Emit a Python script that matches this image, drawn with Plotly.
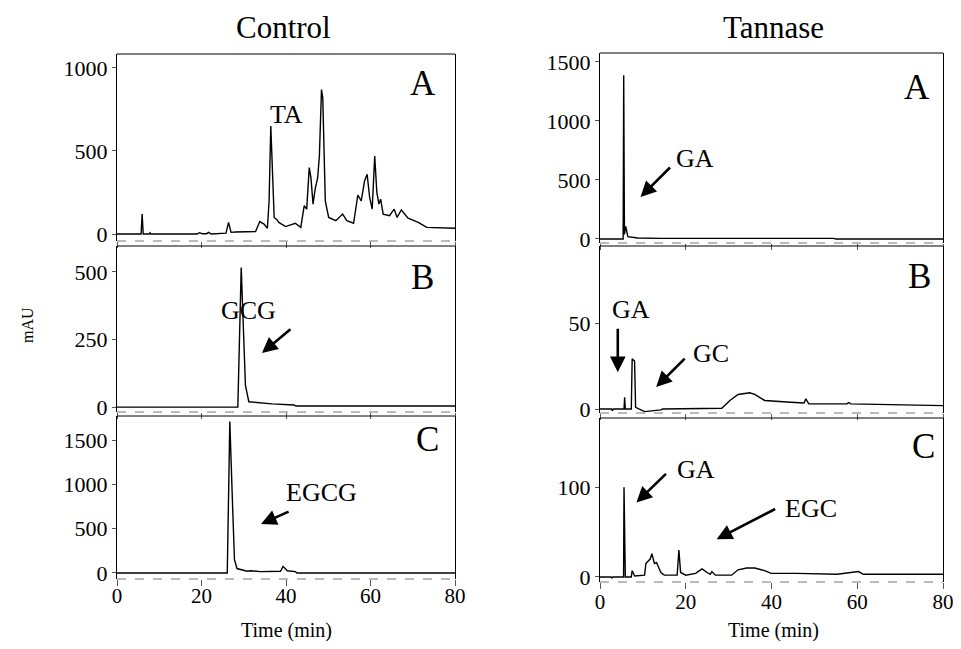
import plotly.graph_objects as go
from plotly.subplots import make_subplots

# Control A (TA)
ctrl_a_t = [0, 5.7, 5.95, 6.2, 7.6, 7.8, 8.0, 19.0, 19.5, 20.2, 21.2, 21.7, 22.3, 25.8, 26.4, 27.0,
            28.0, 32.8, 33.8, 34.8, 35.6, 36.0, 36.4, 36.8, 37.2, 37.9, 38.3, 39.9, 42.2, 43.5, 44.3,
            44.9, 45.5, 45.9, 46.4, 46.9, 47.5, 47.9, 48.4, 48.7, 49.3, 50.1, 51.8, 53.4, 54.4, 56.0,
            57.0, 57.8, 58.6, 59.2, 59.8, 60.4, 61.0, 61.5, 62.0, 62.4, 63.0, 64.5, 65.6, 66.3, 67.3,
            68.9, 71.3, 73.3, 80]
ctrl_a_v = [0, 0, 120, 0, 0, 8, 0, 0, 8, 2, 2, 10, 0, 5, 70, 10,
            12, 15, 75, 60, 35, 200, 650, 300, 100, 85, 70, 45, 65, 40, 170,
            150, 400, 340, 180, 270, 340, 470, 870, 820, 200, 100, 80, 120, 80, 65,
            235, 200, 320, 360, 220, 150, 470, 250, 180, 210, 120, 110, 150, 100, 145,
            95, 70, 40, 35]

# Control B (GCG)
ctrl_b_t = [0, 28.6, 29.4, 30.0, 30.4, 31.2, 36.7, 41.9, 42.3, 80]
ctrl_b_v = [0, 0, 516, 200, 80, 20, 12, 8, 4, 4]

# Control C (EGCG)
ctrl_c_t = [0, 26.1, 26.7, 27.1, 27.4, 27.8, 28.4, 30.8, 31.6, 34.0, 38.7, 39.3, 40.3, 42.2, 42.6, 80]
ctrl_c_v = [0, 0, 1710, 960, 700, 150, 50, 20, 25, 15, 20, 75, 25, 15, 0, 0]

# Tannase A
tan_a_t = [0, 5.4, 5.53, 5.7, 6.0, 6.5, 8.8, 14.0, 54.5, 55.0, 80]
tan_a_v = [0, 0, 1387, 40, 107, 20, 8, 5, 5, 0, 0]

# Tannase B
tan_b_t = [0, 2.7, 2.9, 3.1, 5.6, 5.75, 5.9, 7.3, 7.5, 8.06, 8.3, 10.4, 14.2, 14.6, 28.4, 30.3,
           32.2, 34.2, 34.9, 36.1, 38.4, 44.5, 47.6, 48.0, 48.7, 57.6, 58.0, 58.5, 70.6, 80]
tan_b_v = [0, 0, -1, 0, 0, 6.8, 0, 0, 29.3, 28, 1, -1.5, -0.5, 0, 0.5, 5,
           8.5, 9, 9.5, 8.5, 5, 4, 3.5, 6, 3, 3, 3.8, 3, 2.5, 2]

# Tannase C
tan_c_t = [0, 2.6, 2.8, 3.0, 5.5, 5.6, 5.9, 7.3, 7.5, 8.1, 10.4, 10.7, 11.7, 12.1, 12.7, 13.2,
           14.2, 15.0, 18.0, 18.4, 18.8, 20.0, 22.3, 23.8, 25.0, 25.7, 26.1, 26.9, 30.7, 32.2,
           34.2, 36.1, 38.4, 39.9, 45.8, 55.3, 60.3, 61.4, 80]
tan_c_v = [0, 0, -1, 0, 0, 100, 0, 0, 7, 1, 2, 15, 20, 26, 15, 16,
           5, 2, 2, 30, 5, 2, 4, 9, 5, 3, 6, 2, 2, 8,
           10, 10, 7, 4, 4, 3, 6, 3, 3]

# page body adds an 8px margin, so the figure is a bit smaller than the window
OFF = 8
W, H = 961 - 2 * OFF, 649 - 2 * OFF
SERIF = "Liberation Serif, Times New Roman, serif"

def px(x):
    return (x - OFF) / W

def py(y):
    return 1 - (y - OFF) / H

fig = make_subplots(rows=3, cols=2)

panels = {
    # key: row, col, t, v, yrange, ticks, top px, bottom px
    "LA": (1, 1, ctrl_a_t, ctrl_a_v, [-42, 1084], [0, 500, 1000], 54, 241),
    "LB": (2, 1, ctrl_b_t, ctrl_b_v, [-18, 596], [0, 250, 500], 246, 412),
    "LC": (3, 1, ctrl_c_t, ctrl_c_v, [-68, 1772], [0, 500, 1000, 1500], 416, 579),
    "RA": (1, 2, tan_a_t, tan_a_v, [-34, 1576], [0, 500, 1000, 1500], 53, 243),
    "RB": (2, 2, tan_b_t, tan_b_v, [-2.3, 95], [0, 50], 246, 413),
    "RC": (3, 2, tan_c_t, tan_c_v, [-5.6, 177], [0, 100], 418, 582),
}
xdom = {1: [px(117), px(455)], 2: [px(600), px(943)]}
standoff = {1: -8, 2: -5}

ax = {}
for key, (r, c, t, v, yr, tk, top, bot) in panels.items():
    idx = (r - 1) * 2 + c
    n = "" if idx == 1 else str(idx)
    ax[key] = ("x" + n, "y" + n)
    fig.add_trace(go.Scatter(x=t, y=v, mode="lines", line=dict(color="black", width=1.4),
                             showlegend=False, hoverinfo="skip"), row=r, col=c)
    fig.update_xaxes(domain=xdom[c], range=[0, 80], tickvals=[0, 20, 40, 60, 80],
                     showticklabels=(r == 3), ticks="outside", ticklen=6, tickcolor="#555",
                     ticklabelstandoff=standoff[c], ticklabeloverflow="allow",
                     tickfont=dict(size=21),
                     showline=False, showgrid=False, zeroline=False, automargin=False,
                     row=r, col=c)
    fig.update_yaxes(domain=[py(bot), py(top)], range=yr, tickvals=tk, ticks="outside",
                     ticklen=4, tickcolor="#555", showline=True, mirror=True, linecolor="black",
                     linewidth=1, showgrid=False, zeroline=False, automargin=False,
                     row=r, col=c)
    # top solid edge and dashed bottom edge
    fig.add_shape(type="line", xref=f"x{n} domain", yref=f"y{n} domain", x0=0, x1=1, y0=1, y1=1,
                  line=dict(color="black", width=1))
    fig.add_shape(type="line", xref=f"x{n} domain", yref=f"y{n} domain", x0=0, x1=1, y0=0, y1=0,
                  line=dict(color="#777", width=1, dash="dash"))

labels = [
    ("LA", "TA", 40.2, 717),
    ("LB", "GCG", 31.2, 359),
    ("LC", "EGCG", 48.3, 903),
    ("RA", "GA", 22.1, 686),
    ("RB", "GA", 7.15, 58),
    ("RB", "GC", 25.8, 32.6),
    ("RC", "GA", 22.4, 120),
    ("RC", "EGC", 49.1, 76.7),
]
for key, txt, x, y in labels:
    xr, yr = ax[key]
    fig.add_annotation(x=x, y=y, xref=xr, yref=yr, text=txt, showarrow=False,
                       xanchor="center", yanchor="middle",
                       font=dict(family=SERIF, size=26, color="black"))

arrows = [
    ("LB", 34.3, 200, 30, -25),
    ("LC", 34.1, 553, 29, -13),
    ("RA", 9.45, 356, 31, -31),
    ("RB", 4.15, 21.5, 0, -45),
    ("RB", 13.1, 12.8, 30, -30),
    ("RC", 8.5, 83, 31, -30),
    ("RC", 27.2, 42, 60, -31),
]
for key, x, y, dx, dy in arrows:
    xr, yr = ax[key]
    fig.add_annotation(x=x, y=y, xref=xr, yref=yr, text="", showarrow=True, ax=dx, ay=dy,
                       arrowhead=2, arrowsize=1.2, arrowwidth=2.6, arrowcolor="black")

def paper_text(txt, x, y, size, angle=0):
    fig.add_annotation(x=px(x), y=py(y), xref="paper", yref="paper", text=txt, showarrow=False,
                       xanchor="center", yanchor="middle", textangle=angle,
                       font=dict(family=SERIF, size=size, color="black"))

for txt, x, y in [("A", 423, 83), ("B", 422, 277), ("C", 427, 439),
                  ("A", 917, 87), ("B", 919, 276), ("C", 923, 446)]:
    paper_text(txt, x, y, 35)

paper_text("Control", 283, 27, 31)
paper_text("Tannase", 773, 27, 31)
paper_text("mAU", 27, 325, 16, -90)
paper_text("Time (min)", 286, 630, 20)
paper_text("Time (min)", 773, 630, 20)

fig.update_layout(width=W, height=H, margin=dict(l=0, r=0, t=0, b=0),
                  plot_bgcolor="white", paper_bgcolor="white",
                  font=dict(family=SERIF, size=22, color="black"))

fig.write_html("out.html")
